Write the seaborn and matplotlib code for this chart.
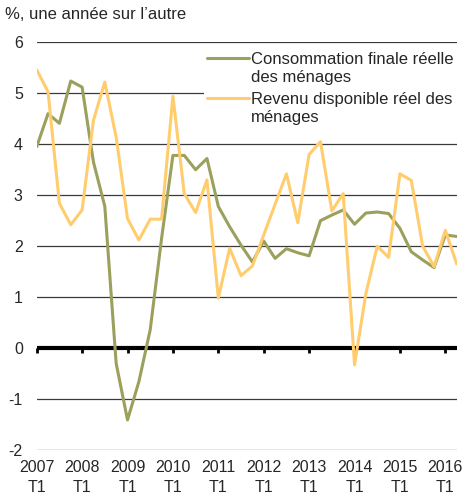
import matplotlib
matplotlib.use("Agg")
import matplotlib.pyplot as plt
import numpy as np
import pandas as pd
import seaborn as sns

# Taux de croissance, % d'une année sur l'autre, 2007 T1 à 2016 T2
consommation = [3.95, 4.60, 4.41, 5.24, 5.12, 3.65, 2.78, -0.30, -1.41, -0.66,
                0.36, 2.15, 3.78, 3.78, 3.50, 3.72, 2.78, 2.38, 2.02, 1.69,
                2.10, 1.76, 1.95, 1.87, 1.81, 2.50, 2.61, 2.71, 2.43, 2.65,
                2.67, 2.64, 2.35, 1.89, 1.73, 1.58, 2.22, 2.19]
revenu = [5.46, 5.03, 2.84, 2.42, 2.71, 4.47, 5.22, 4.14, 2.54, 2.12,
          2.53, 2.53, 4.94, 3.03, 2.66, 3.30, 0.98, 1.96, 1.42, 1.61,
          2.22, 2.82, 3.42, 2.46, 3.80, 4.05, 2.69, 3.03, -0.33, 1.07,
          2.00, 1.78, 3.42, 3.29, 2.00, 1.60, 2.31, 1.65]
tick_labels = ["2007\nT1", "2008\nT1", "2009\nT1", "2010\nT1", "2011\nT1",
               "2012\nT1", "2013\nT1", "2014\nT1", "2015\nT1", "2016\nT1"]
series_names = ["Consommation finale réelle\ndes ménages",
                "Revenu disponible réel des\nménages"]
colors = ["#9BA05C", "#FFCD6E"]

trimestre = np.arange(len(consommation))
df = pd.concat([
    pd.DataFrame({"t": trimestre, "val": consommation, "serie": series_names[0]}),
    pd.DataFrame({"t": trimestre, "val": revenu, "serie": series_names[1]}),
])

sns.set_style("white")
plt.rcParams["font.family"] = ["Liberation Sans", "DejaVu Sans"]
plt.rcParams["axes.unicode_minus"] = False

fig = plt.figure(figsize=(4.66, 4.96), dpi=100)
ax = fig.add_axes([36.7 / 466, 1 - 450 / 496, 420 / 466, 407.7 / 496])

sns.lineplot(data=df, x="t", y="val", hue="serie", palette=colors,
             linewidth=2.2, ax=ax, zorder=4)

ax.set_xlim(0, len(consommation) - 1)
ax.set_ylim(-2, 6)
ax.set_yticks(range(-2, 7))
ax.grid(axis="y", color="#3a3a3a", linewidth=0.9)
ax.grid(axis="x", visible=False)
for s in ax.spines.values():
    s.set_visible(False)
ax.set_xlabel("")
ax.set_ylabel("")

year_pos = trimestre[::4]
ax.set_xticks(year_pos, tick_labels)
ax.tick_params(axis="x", length=0, pad=7, labelsize=11.5)
ax.tick_params(axis="y", length=0, pad=10, labelsize=11.5)
for lbl in ax.get_xticklabels():
    lbl.set_linespacing(1.4)

# axe du zéro avec petites marques annuelles
ax.axhline(0, color="black", linewidth=3, zorder=3)
sec = ax.secondary_xaxis(0.25)
sec.set_xticks(year_pos)
sec.tick_params(length=3.5, width=2, color="black", labelbottom=False)
sec.spines["bottom"].set_visible(False)

handles, labels = ax.get_legend_handles_labels()
leg = ax.legend(handles, labels, loc="upper left", bbox_to_anchor=(0.378, 1.006),
                frameon=True, facecolor="white", edgecolor="none", framealpha=1,
                fancybox=False, borderpad=0.2, handlelength=2.5, handleheight=1.0,
                handletextpad=0.15, labelspacing=0.42, fontsize=12)
for t in leg.get_texts():
    t.set_linespacing(1.25)
for col in leg._legend_handle_box.get_children():
    for row in col.get_children():
        row.align = "top"

fig.text(5 / 466, 1 - 7 / 496, "%, une année sur l’autre", ha="left", va="top",
         fontsize=12)

fig.savefig("out.png", dpi=100)
